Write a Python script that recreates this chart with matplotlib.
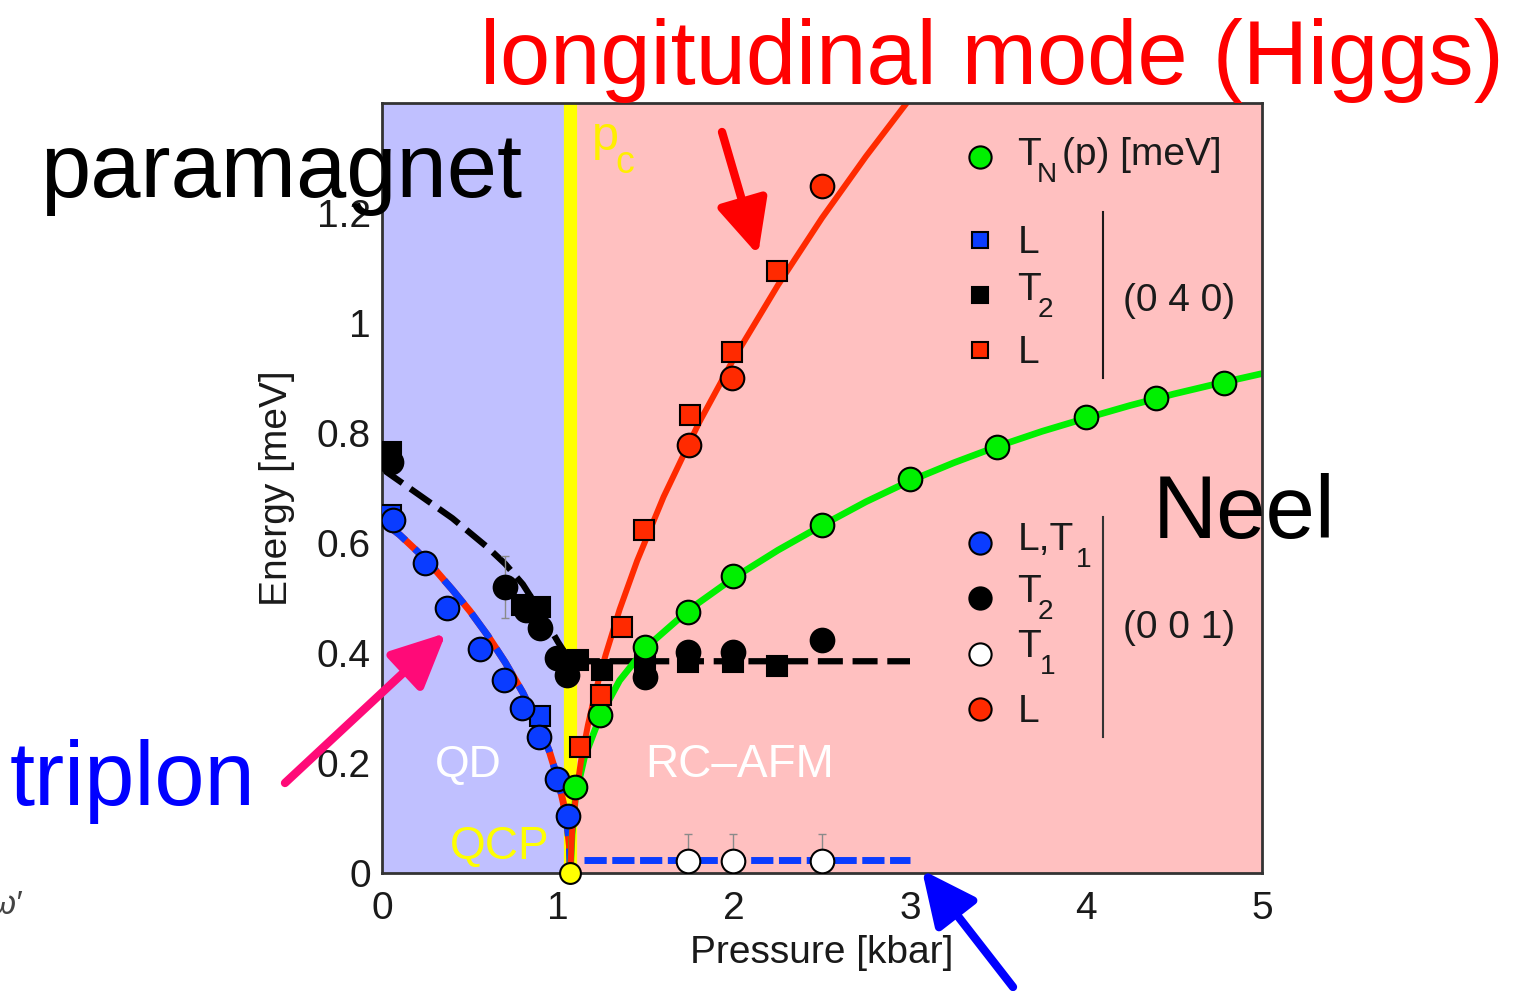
import matplotlib
matplotlib.use("Agg")
import matplotlib.pyplot as plt
from matplotlib.patches import FancyArrowPatch

plt.rcParams['font.family'] = ['Liberation Sans', 'DejaVu Sans']
plt.rcParams['lines.scale_dashes'] = False

# critical pressure [kbar]
p_c = 1.07

# (0 0 1) : L,T1 (blue circles)
lt1_p = [0.06, 0.244, 0.37, 0.557, 0.693, 0.795, 0.892, 0.994, 1.057]
lt1_E = [0.642, 0.564, 0.482, 0.407, 0.351, 0.300, 0.247, 0.171, 0.104]
# (0 0 1) : T2 (black circles)
t2c_p = [0.05, 0.70, 0.82, 0.90, 0.994, 1.05, 1.494, 1.74, 1.994, 2.5]
t2c_E = [0.747, 0.520, 0.478, 0.445, 0.391, 0.360, 0.356, 0.402, 0.402, 0.424]
# (0 0 1) : T1 (white circles) in ordered phase
t1_p = [1.74, 1.994, 2.5]
t1_E = [0.022, 0.022, 0.022]
# (0 0 1) : L (red circles)
lc_p = [1.744, 1.989, 2.5]
lc_E = [0.778, 0.900, 1.249]

# (0 4 0) : L (blue squares)
ls_blue_p = [0.05, 0.898]
ls_blue_E = [0.651, 0.285]
# (0 4 0) : T2 (black squares)
t2s_p = [0.05, 0.795, 0.898, 1.114, 1.25, 1.494, 1.74, 1.994, 2.244]
t2s_E = [0.765, 0.487, 0.484, 0.387, 0.369, 0.384, 0.384, 0.384, 0.376]
# (0 4 0) : L (red squares)
ls_red_p = [1.125, 1.244, 1.364, 1.489, 1.75, 1.989, 2.244]
ls_red_E = [0.229, 0.324, 0.447, 0.624, 0.833, 0.947, 1.095]

# Neel temperature T_N(p) [meV] (green circles)
tn_p = [1.097, 1.239, 1.494, 1.739, 1.994, 2.5, 3.0, 3.494, 4.0, 4.398, 4.784]
tn_E = [0.156, 0.287, 0.411, 0.475, 0.540, 0.633, 0.716, 0.775, 0.829, 0.864, 0.891]

# guide-to-the-eye curves
triplon_fit_p = [0.0, 0.1, 0.2, 0.3, 0.4, 0.5, 0.6, 0.7, 0.8, 0.9, 0.95, 1.0, 1.03, 1.05, 1.065, 1.07]
triplon_fit_E = [0.640, 0.615, 0.585, 0.552, 0.515, 0.476, 0.432, 0.383, 0.328, 0.262, 0.222, 0.170, 0.128, 0.092, 0.050, 0.0]
t2_fit_p = [0.0, 0.2, 0.4, 0.6, 0.7, 0.8, 0.9, 1.0, 1.07, 3.0]
t2_fit_E = [0.735, 0.690, 0.645, 0.592, 0.562, 0.525, 0.475, 0.420, 0.385, 0.385]
t1_fit_p = [1.15, 3.0]
t1_fit_E = [0.024, 0.024]
tn_fit_p = [1.07, 1.08, 1.10, 1.15, 1.24, 1.35, 1.5, 1.75, 2.0, 2.25, 2.5, 2.75,
            3.0, 3.25, 3.5, 3.75, 4.0, 4.25, 4.5, 4.75, 5.0]
tn_fit_E = [0.0, 0.07, 0.14, 0.21, 0.285, 0.350, 0.410, 0.480, 0.537, 0.587, 0.632, 0.675,
            0.713, 0.746, 0.776, 0.803, 0.827, 0.850, 0.871, 0.890, 0.908]
higgs_fit_p = [1.07, 1.08, 1.10, 1.13, 1.17, 1.22, 1.27, 1.35, 1.45, 1.60, 1.80, 2.00,
               2.25, 2.50, 2.75, 3.00]
higgs_fit_E = [0.0, 0.074, 0.137, 0.202, 0.269, 0.338, 0.396, 0.479, 0.568, 0.684, 0.818, 0.936,
               1.069, 1.191, 1.303, 1.408]

xticks = [0, 1, 2, 3, 4, 5]
yticks = [0, 0.2, 0.4, 0.6, 0.8, 1.0, 1.2]
ytick_labels = ['0', '0.2', '0.4', '0.6', '0.8', '1', '1.2']

BLUE = '#0a3cff'
RED = '#ff2a00'
GREEN = '#00f000'
INK = '#1a1a1a'
W, H = 1513, 991


def fxy(px, py):
    """pixel position in the picture -> figure fraction"""
    return px / W, 1 - py / H


def sub_text(ax, x, y, main, sub, sub_x, rest=None, rest_x=None, size=28):
    """main text with a big, low subscript like in the original figure"""
    kw = dict(color=INK, ha='left', va='baseline', zorder=6)
    ax.text(x, y, main, fontsize=size, **kw)
    ax.text(sub_x, y - 0.031, sub, fontsize=size * 0.72, **kw)
    if rest:
        ax.text(rest_x, y, rest, fontsize=size, **kw)


fig = plt.figure(figsize=(W / 100, H / 100), dpi=100)
ax = fig.add_axes([382 / W, 1 - 873 / H, 880 / W, 770 / H])

ax.set_xlim(0, 5)
ax.set_ylim(0, 1.4)
ax.axvspan(0, p_c, color='#c0c0ff', lw=0, zorder=0)
ax.axvspan(p_c, 5, color='#ffc0c0', lw=0, zorder=0)
ax.axvline(p_c, color='#ffff00', lw=9.5, zorder=1)

# curves
ax.plot(triplon_fit_p, triplon_fit_E, color=RED, lw=5, zorder=2)
ax.plot(triplon_fit_p, triplon_fit_E, color=BLUE, lw=5, dashes=(22, 9), zorder=2)
ax.plot(t2_fit_p, t2_fit_E, color='black', lw=4.5, dashes=(18, 7), zorder=2)
ax.plot(t1_fit_p, t1_fit_E, color=BLUE, lw=5, dashes=(16, 4), zorder=2)
ax.plot(tn_fit_p, tn_fit_E, color=GREEN, lw=4.8, zorder=2)
ax.plot(higgs_fit_p, higgs_fit_E, color=RED, lw=4.3, zorder=2)

# error bars
ax.errorbar([0.70], [0.52], yerr=[0.057], fmt='none', ecolor='#8a8a8a', elinewidth=1, capsize=3, zorder=3)
ax.errorbar(t1_p, t1_E, yerr=0.049, fmt='none', ecolor='#8a8a8a', elinewidth=1, capsize=3, zorder=3)

mk = dict(ls='none', mec='black', mew=1.5, zorder=4)
ax.plot(t2s_p, t2s_E, marker='s', ms=15, mfc='black', **mk)
ax.plot(t2c_p, t2c_E, marker='o', ms=17, mfc='black', **mk)
ax.plot(ls_blue_p, ls_blue_E, marker='s', ms=15, mfc=BLUE, **mk)
ax.plot(lt1_p, lt1_E, marker='o', ms=17, mfc=BLUE, **mk)
ax.plot(tn_p, tn_E, marker='o', ms=17, mfc=GREEN, **mk)
ax.plot(ls_red_p, ls_red_E, marker='s', ms=15, mfc=RED, **mk)
ax.plot(lc_p, lc_E, marker='o', ms=17, mfc=RED, **mk)
ax.plot(t1_p, t1_E, marker='o', ms=17, mfc='white', **mk)
ax.plot([p_c], [0], marker='o', ms=15, mfc='#ffff00', mec='black', mew=1.5, ls='none',
        zorder=5, clip_on=False)

# region labels
ax.text(0.49, 0.196, 'QD', color='white', fontsize=32, ha='center', va='center', zorder=3)
ax.text(2.03, 0.196, 'RC–AFM', color='white', fontsize=33, ha='center', va='center', zorder=3)
ax.text(0.67, 0.047, 'QCP', color='#ffff00', fontsize=33, ha='center', va='center', zorder=3)
ax.text(1.193, 1.315, 'p', color='#ffee00', fontsize=35, ha='left', va='baseline', zorder=3)
ax.text(1.324, 1.273, 'c', color='#ffee00', fontsize=27, ha='left', va='baseline', zorder=3)

# hand-made legend
leg_txt = dict(fontsize=28, color=INK, ha='left', va='baseline', zorder=6)
ax.plot([3.40], [1.302], marker='o', ms=16, mfc=GREEN, mec='black', mew=1.5, ls='none', zorder=6)
sub_text(ax, 3.61, 1.287, 'T', 'N', 3.72, rest='(p) [meV]', rest_x=3.865)

ax.plot([3.40], [1.151], marker='s', ms=12, mfc=BLUE, mec='black', mew=1.5, ls='none', zorder=6)
ax.text(3.61, 1.127, 'L', **leg_txt)
ax.plot([3.40], [1.051], marker='s', ms=12, mfc='black', mec='black', mew=1.5, ls='none', zorder=6)
sub_text(ax, 3.61, 1.042, 'T', '2', 3.727)
ax.plot([3.40], [0.951], marker='s', ms=12, mfc=RED, mec='black', mew=1.5, ls='none', zorder=6)
ax.text(3.61, 0.927, 'L', **leg_txt)
ax.plot([4.097, 4.097], [0.90, 1.202], color=INK, lw=1.5, zorder=6)
ax.text(4.21, 1.04, '(0 4 0)', fontsize=28, color=INK, ha='left', va='center', zorder=6)

ax.plot([3.40], [0.600], marker='o', ms=16, mfc=BLUE, mec='black', mew=1.5, ls='none', zorder=6)
sub_text(ax, 3.61, 0.587, 'L,T', '1', 3.94)
ax.plot([3.40], [0.500], marker='o', ms=16, mfc='black', mec='black', mew=1.5, ls='none', zorder=6)
sub_text(ax, 3.61, 0.493, 'T', '2', 3.727)
ax.plot([3.40], [0.398], marker='o', ms=16, mfc='white', mec='black', mew=1.5, ls='none', zorder=6)
sub_text(ax, 3.61, 0.393, 'T', '1', 3.74)
ax.plot([3.40], [0.298], marker='o', ms=16, mfc=RED, mec='black', mew=1.5, ls='none', zorder=6)
ax.text(3.61, 0.275, 'L', **leg_txt)
ax.plot([4.097, 4.097], [0.247, 0.647], color='#333333', lw=1.5, zorder=6)
ax.text(4.21, 0.445, '(0 0 1)', fontsize=28, color=INK, ha='left', va='center', zorder=6)

# axes styling
ax.set_xticks(xticks)
ax.set_yticks(yticks)
ax.set_yticklabels(ytick_labels)
ax.tick_params(length=0, labelsize=28, colors=INK)
ax.tick_params(axis='x', pad=13)
ax.tick_params(axis='y', pad=8)
ax.set_xlabel('Pressure [kbar]', fontsize=28, color=INK, labelpad=6)
ax.set_ylabel('Energy [meV]', fontsize=28, color=INK, labelpad=16)
for s in ax.spines.values():
    s.set_color('#333333')
    s.set_linewidth(2)

# big annotations on the figure
fig.text(*fxy(40, 197), 'paramagnet', fontsize=65, color='black', ha='left', va='baseline', zorder=10)
fig.text(*fxy(480, 84), 'longitudinal mode (Higgs)', fontsize=65, color='#ff0000',
         ha='left', va='baseline', zorder=10)
fig.text(*fxy(1153, 538), 'Neel', fontsize=64, color='black', ha='left', va='baseline', zorder=10)
fig.text(*fxy(10, 805), 'triplon', fontsize=65, color='#0000ff', ha='left', va='baseline', zorder=10)
fig.text(*fxy(22, 905), "ω′", fontsize=24, style='italic', color='#444444', ha='right', va='center', zorder=10)

arrows = [((722, 132), (758, 255), '#ff0000'),
          ((285, 783), (446, 633), '#ff0a78'),
          ((1013, 987), (922, 870), '#0000ff')]
for a, b, c in arrows:
    arr = FancyArrowPatch(fxy(*a), fxy(*b), transform=fig.transFigure,
                          arrowstyle='-|>,head_length=0.55,head_width=0.26',
                          mutation_scale=60, color=c, lw=6, shrinkA=0, shrinkB=0, zorder=10)
    fig.add_artist(arr)

fig.savefig('out.png', dpi=100)
